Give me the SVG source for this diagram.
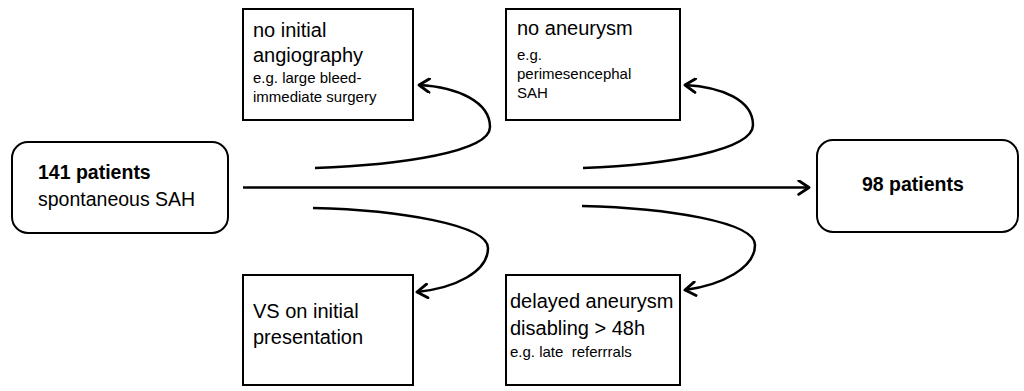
<svg xmlns="http://www.w3.org/2000/svg" width="1024" height="391" viewBox="0 0 1024 391">
<defs>
<style>
.box{fill:#fff;stroke:#000;stroke-width:2}
.big{font-family:"Liberation Sans",Arial,sans-serif;font-size:20px;fill:#000}
.small{font-family:"Liberation Sans",Arial,sans-serif;font-size:15px;fill:#000}
.bold{font-family:"Liberation Sans",Arial,sans-serif;font-size:19.5px;font-weight:bold;fill:#000}
.reg{font-family:"Liberation Sans",Arial,sans-serif;font-size:19.5px;fill:#000}
.conn{fill:none;stroke:#000;stroke-width:2.5}
</style>
<marker id="arr" markerUnits="userSpaceOnUse" markerWidth="16" markerHeight="16" refX="11" refY="7" orient="auto" viewBox="0 0 14 14">
<path d="M2,1 L11,7 L2,13" fill="none" stroke="#000" stroke-width="2.5" stroke-linecap="round" stroke-linejoin="round"/>
</marker>
</defs>
<rect width="1024" height="391" fill="#fff"/>
<g id="connectors">
<line class="conn" x1="243" y1="187.5" x2="809" y2="187.5" stroke-width="2" marker-end="url(#arr)"/>
<path class="conn" d="M315,168 C400,165 490,152 490,127 C490,102 458,87 419,85" marker-end="url(#arr)"/>
<path class="conn" d="M583,168 C668,165 753,150 753,125 C753,100 722,87 685,85" marker-end="url(#arr)"/>
<path class="conn" d="M313,208 C400,210 488,225 488,248 C488,272 455,288 417,292" marker-end="url(#arr)"/>
<path class="conn" d="M582,206 C668,208 755,222 755,245 C755,268 722,285 685,290" marker-end="url(#arr)"/>
</g>
<g id="start">
<rect class="box" x="12" y="142" width="216" height="91" rx="16"/>
<text class="bold" x="38" y="179">141 patients</text>
<text class="reg" x="38" y="206">spontaneous  SAH</text>
</g>
<g id="end">
<rect class="box" x="817" y="140" width="201" height="92" rx="16"/>
<text class="bold" x="862" y="191">98 patients</text>
</g>
<g id="no-angiography">
<rect class="box" x="243" y="9" width="170" height="111"/>
<text class="big" x="253" y="37">no initial</text>
<text class="big" x="253" y="62">angiography</text>
<text class="small" x="253" y="83">e.g. large bleed-</text>
<text class="small" x="253" y="102">immediate surgery</text>
</g>
<g id="no-aneurysm">
<rect class="box" x="506" y="9" width="174" height="111"/>
<text class="big" x="517" y="35">no aneurysm</text>
<text class="small" x="517" y="60">e.g.</text>
<text class="small" x="517" y="79">perimesencephal</text>
<text class="small" x="517" y="98">SAH</text>
</g>
<g id="vs-initial">
<rect class="box" x="243" y="275" width="170" height="110"/>
<text class="big" x="253" y="318">VS on initial</text>
<text class="big" x="253" y="344">presentation</text>
</g>
<g id="delayed">
<rect class="box" x="506" y="275" width="174" height="110"/>
<text class="big" x="510" y="308">delayed aneurysm</text>
<text class="big" x="510" y="335">disabling &gt; 48h</text>
<text class="small" x="510" y="357" xml:space="preserve">e.g. late  referrrals</text>
</g>
</svg>
